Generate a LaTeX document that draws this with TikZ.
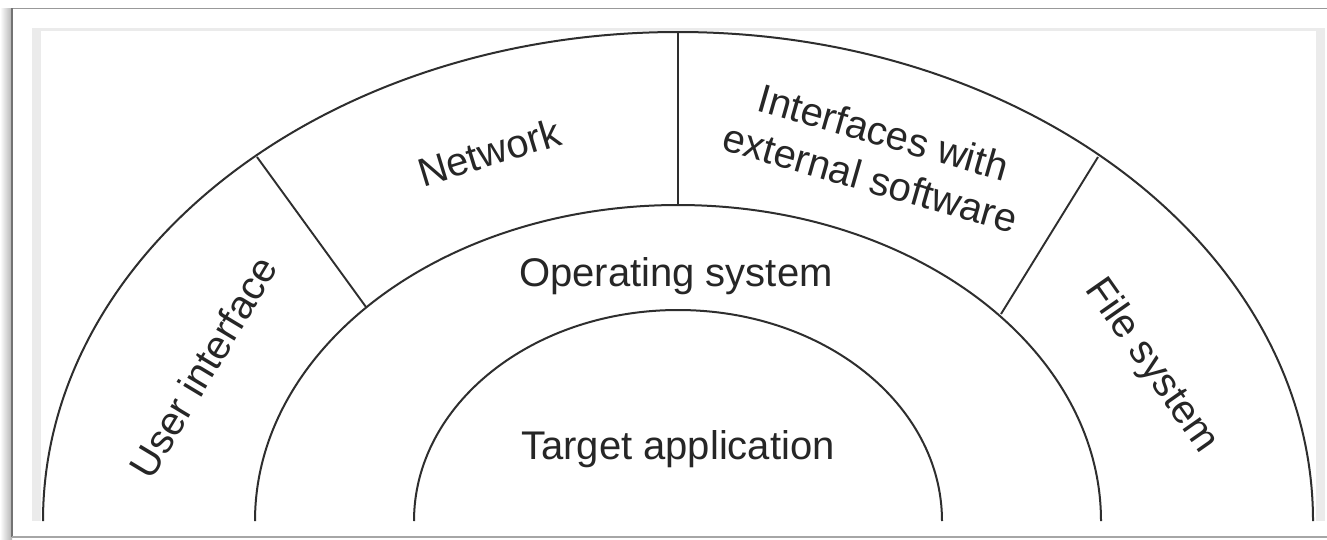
\documentclass[tikz,border=0pt]{standalone}
\usepackage{fontspec}
\setmainfont{Liberation Sans}
\begin{document}
\begin{tikzpicture}[x=1pt,y=-1pt,
  ring/.style={draw=black!82, line width=2pt},
  divider/.style={draw=black!82, line width=1.9pt},
  lbl/.style={font=\fontsize{40}{48}\selectfont, text=black!85, align=center, inner sep=0pt}]
\useasboundingbox (0,0) rectangle (1327,539);
\fill[white] (0,0) rectangle (1327,539);
% frame and shadow
\shade[left color=white, right color=black!30] (0,8) rectangle (12,539);
\draw[black!40, line width=1pt] (12,8) -- (1327,8);
\draw[black!55, line width=1.5pt] (12,8) -- (12,537);
\draw[black!35, line width=2pt] (12,537) -- (1327,537);
% panel
\fill[black!8] (32,28) rectangle (1325,521);
\fill[white] (41,30.5) rectangle (1316,521);
\begin{scope}
\clip (41,30) rectangle (1316,521);
\draw[ring] (43,521) arc[start angle=180,end angle=0,x radius=635pt,y radius=489pt];
\draw[ring] (255,521) arc[start angle=180,end angle=0,x radius=423pt,y radius=316pt];
\draw[ring] (414,521) arc[start angle=180,end angle=0,x radius=264pt,y radius=211pt];
\end{scope}
% dividers
\coordinate (oL) at (257,157);
\coordinate (mL) at (366,307);
\coordinate (oT) at (678,32);
\coordinate (mT) at (678,205);
\coordinate (oR) at (1098,157);
\coordinate (mR) at (1001,314);
\draw[divider] (oL) -- (mL);
\draw[divider] (oT) -- (mT);
\draw[divider] (oR) -- (mR);
% labels
\node[lbl, rotate=59] (ui) at (203,367) {User interface};
\node[lbl, rotate=17] (net) at (489,152) {Network};
\node[lbl, rotate=-16] (ext) at (877,155) {Interfaces with\\external software};
\node[lbl, rotate=-55] (fs) at (1151,366) {File system};
\node[lbl] (os) at (676,276) {Operating system};
\node[lbl] (ta) at (678,449) {Target application};
\end{tikzpicture}
\end{document}
